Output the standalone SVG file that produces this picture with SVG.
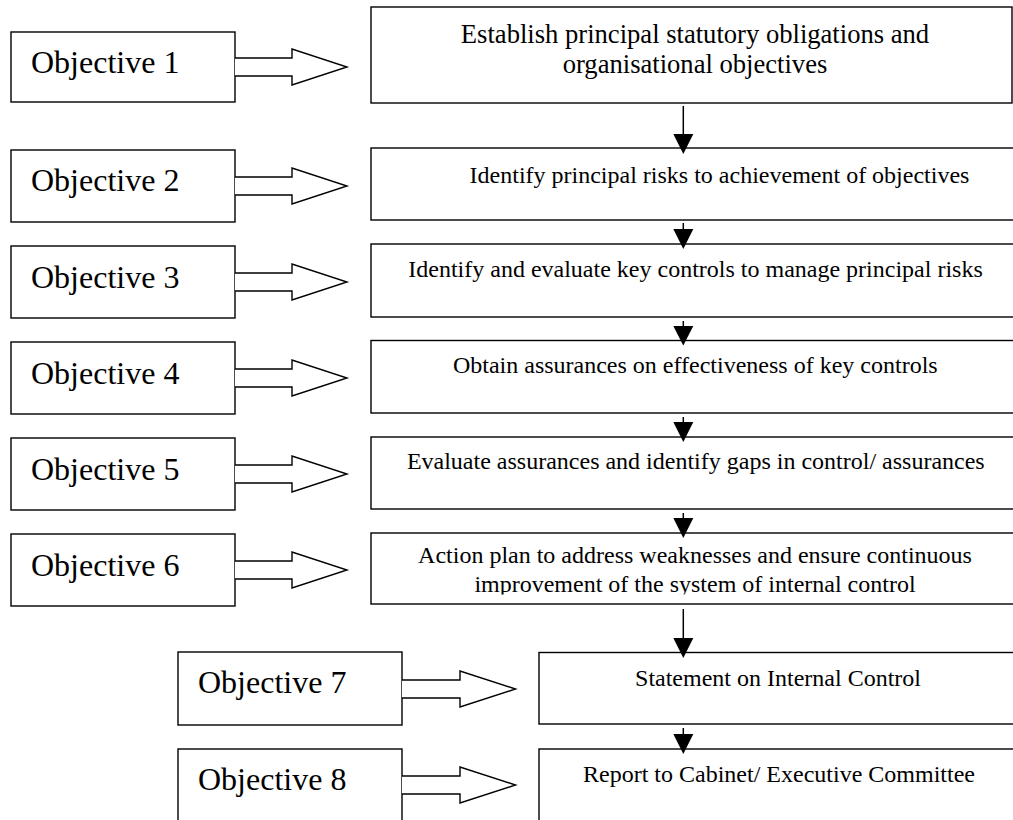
<svg xmlns="http://www.w3.org/2000/svg" width="1013" height="820" viewBox="0 0 1013 820">
<style>
.box{fill:#fff;stroke:#000;stroke-width:1.4}
.blk{fill:#fff;stroke:#000;stroke-width:1.4;stroke-linejoin:miter}
.lbl{font-family:"Liberation Serif","Times New Roman",serif;font-size:32px;fill:#000}
.t{font-family:"Liberation Serif","Times New Roman",serif;font-size:24px;fill:#000;text-anchor:middle}
.t1{font-family:"Liberation Serif","Times New Roman",serif;font-size:26.6px;fill:#000;text-anchor:middle}
.ln{stroke:#000;stroke-width:1.5;fill:none}
.hd{fill:#000;stroke:none}
</style>
<defs>
<clipPath id="c6"><rect x="371" y="533" width="650" height="61.5"/></clipPath>
</defs>
<rect width="1013" height="820" fill="#fff"/>

<g id="obj1"><rect class="box" x="11" y="32" width="224" height="70"/><text class="lbl" x="31" y="73">Objective 1</text></g>
<g id="obj2"><rect class="box" x="11" y="150" width="224" height="72"/><text class="lbl" x="31" y="191">Objective 2</text></g>
<g id="obj3"><rect class="box" x="11" y="246" width="224" height="72"/><text class="lbl" x="31" y="288">Objective 3</text></g>
<g id="obj4"><rect class="box" x="11" y="342" width="224" height="72"/><text class="lbl" x="31" y="384">Objective 4</text></g>
<g id="obj5"><rect class="box" x="11" y="438" width="224" height="72"/><text class="lbl" x="31" y="480">Objective 5</text></g>
<g id="obj6"><rect class="box" x="11" y="534" width="224" height="72"/><text class="lbl" x="31" y="576">Objective 6</text></g>
<g id="obj7"><rect class="box" x="178" y="652" width="224" height="73"/><text class="lbl" x="198" y="693">Objective 7</text></g>
<g id="obj8"><rect class="box" x="178" y="749" width="224" height="80"/><text class="lbl" x="198" y="790">Objective 8</text></g>

<g id="step1"><rect class="box" x="371" y="7" width="641" height="96"/>
<text class="t1" x="695" y="43.3">Establish principal statutory obligations and</text>
<text class="t1" x="695" y="73.3">organisational objectives</text></g>
<g id="step2"><rect class="box" x="371" y="148" width="660" height="72"/><text class="t" x="719.5" y="183.3">Identify principal risks to achievement of objectives</text></g>
<g id="step3"><rect class="box" x="371" y="244" width="660" height="73"/><text class="t" x="695.5" y="277">Identify and evaluate key controls to manage principal risks</text></g>
<g id="step4"><rect class="box" x="371" y="340.5" width="660" height="72.5"/><text class="t" x="695.3" y="373.3">Obtain assurances on effectiveness of key controls</text></g>
<g id="step5"><rect class="box" x="371" y="437" width="660" height="72"/><text class="t" x="695.8" y="469">Evaluate assurances and identify gaps in control/ assurances</text></g>
<g id="step6"><rect class="box" x="371" y="533" width="660" height="71"/>
<g clip-path="url(#c6)"><text class="t" x="695" y="563.3">Action plan to address weaknesses and ensure continuous</text>
<text class="t" x="695" y="591.7">improvement of the system of internal control</text></g></g>
<g id="step7"><rect class="box" x="539" y="652.5" width="490" height="71.5"/><text class="t" x="778" y="686">Statement on Internal Control</text></g>
<g id="step8"><rect class="box" x="539" y="749" width="490" height="80"/><text class="t" x="779" y="781.7">Report to Cabinet/ Executive Committee</text></g>

<g id="connectors">
<path class="blk" d="M235,58 H292 V49 L347,67 L292,85 V76 H235"/>
<path class="blk" d="M235,177 H292 V168 L347,186 L292,204 V195 H235"/>
<path class="blk" d="M235,273 H292 V264 L347,282 L292,300 V291 H235"/>
<path class="blk" d="M235,369 H292 V360 L347,378 L292,396 V387 H235"/>
<path class="blk" d="M235,465 H292 V456 L347,474 L292,492 V483 H235"/>
<path class="blk" d="M235,561 H292 V552 L347,570 L292,588 V579 H235"/>
<path class="blk" d="M402,680 H460 V671 L515.5,689 L460,707 V698 H402"/>
<path class="blk" d="M402,776 H460 V767 L515.5,785 L460,803 V794 H402"/>

<line class="ln" x1="683.3" y1="106" x2="683.3" y2="136"/>
<path class="hd" d="M673.3,134 H693.3 L683.3,154 Z"/>
<line class="ln" x1="683.3" y1="223" x2="683.3" y2="231"/>
<path class="hd" d="M673.3,229 H693.3 L683.3,249 Z"/>
<line class="ln" x1="683.3" y1="321" x2="683.3" y2="328"/>
<path class="hd" d="M673.3,326 H693.3 L683.3,345.5 Z"/>
<line class="ln" x1="683.3" y1="417" x2="683.3" y2="424"/>
<path class="hd" d="M673.3,422 H693.3 L683.3,442 Z"/>
<line class="ln" x1="683.3" y1="513" x2="683.3" y2="520"/>
<path class="hd" d="M673.3,518 H693.3 L683.3,538 Z"/>
<line class="ln" x1="683.3" y1="609" x2="683.3" y2="640"/>
<path class="hd" d="M673.3,638 H693.3 L683.3,658 Z"/>
<line class="ln" x1="683.3" y1="728" x2="683.3" y2="736"/>
<path class="hd" d="M673.3,734 H693.3 L683.3,754 Z"/>
</g>
</svg>
